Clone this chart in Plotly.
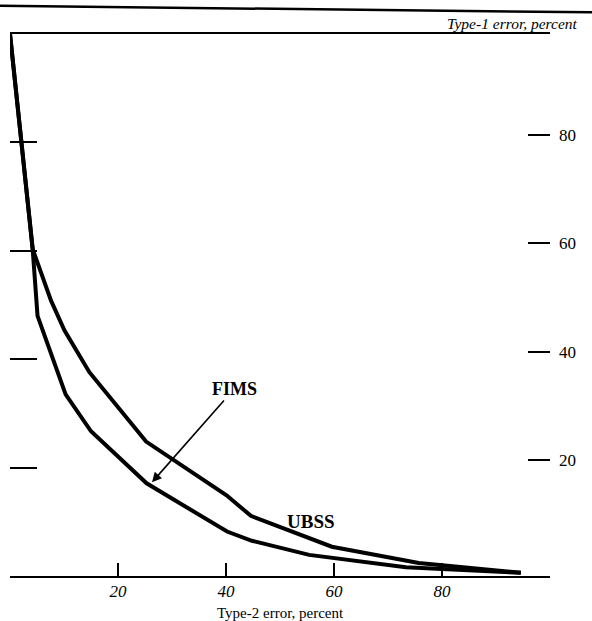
import plotly.graph_objects as go

# Data (Type-2 error %, Type-1 error %)
ubss_x = [0, 4.2, 7.6, 10.1, 14.7, 25.2, 40.1, 44.6, 59.6, 75.7, 94.6]
ubss_y = [100, 60.3, 50.8, 45.3, 37.6, 24.8, 14.9, 11.1, 5.4, 2.4, 0.6]
fims_x = [0, 4.2, 5.1, 10.3, 15.0, 25.3, 40.2, 44.8, 55.4, 73.3, 94.6]
fims_y = [100, 60.3, 48.0, 33.5, 26.7, 17.1, 8.2, 6.5, 3.9, 1.6, 0.6]

tick_vals = [20, 40, 60, 80]
tick_text = ["20", "40", "60", "80"]

FONT = "Liberation Serif"

fig = go.Figure()
fig.add_trace(go.Scatter(x=ubss_x, y=ubss_y, mode="lines", name="UBSS",
                         line=dict(color="black", width=4), showlegend=False))
fig.add_trace(go.Scatter(x=fims_x, y=fims_y, mode="lines", name="FIMS",
                         line=dict(color="black", width=4), showlegend=False))
# empty trace so that the right-hand tick axis is drawn
fig.add_trace(go.Scatter(x=[], y=[], yaxis="y2", mode="lines",
                         showlegend=False, hoverinfo="skip"))

fig.update_layout(
    width=592, height=621,
    margin=dict(l=10, r=42, t=34, b=45),
    paper_bgcolor="white", plot_bgcolor="white",
    showlegend=False,
    xaxis=dict(range=[0, 100], showgrid=False, zeroline=False,
               showline=True, linecolor="black", linewidth=1.6, mirror=True,
               ticks="inside", tickvals=tick_vals, ticktext=tick_text,
               ticklen=13, tickwidth=1.5, tickcolor="black",
               ticklabelstandoff=-1,
               tickfont=dict(family=FONT, size=17, color="black", style="italic"),
               minor=dict(tickvals=[0, 100], ticks="inside", ticklen=20,
                          tickwidth=1.5, tickcolor="black", showgrid=False)),
    yaxis=dict(range=[0, 100], showgrid=False, zeroline=False, showline=False,
               ticks="inside", tickvals=tick_vals, ticklen=27, tickwidth=1.5,
               tickcolor="black", showticklabels=False),
    yaxis2=dict(range=[-1.4, 98.6], overlaying="y", side="right", anchor="x",
                showgrid=False, zeroline=False, showline=False,
                ticks="inside", tickvals=tick_vals, ticktext=tick_text,
                ticklen=22, tickwidth=1.5, tickcolor="black",
                ticklabelstandoff=8,
                tickfont=dict(family=FONT, size=17, color="black")),
    shapes=[
        dict(type="line", xref="paper", yref="paper",
             x0=-0.02, y0=1.052, x1=1.08, y1=1.040,
             line=dict(color="black", width=2.5)),
    ],
    annotations=[
        dict(text="Type-1 error, percent", xref="paper", yref="paper",
             x=1.0556, y=1.020, xanchor="right", yanchor="middle",
             showarrow=False,
             font=dict(family=FONT, size=15.5, color="black", style="italic")),
        dict(text="Type-2 error, percent", xref="paper", yref="paper",
             x=0.5, y=-0.0675, xanchor="center", yanchor="middle",
             showarrow=False,
             font=dict(family=FONT, size=15, color="black")),
        dict(text="<b>FIMS</b>", xref="x", yref="y", x=26.3, y=17.3,
             axref="x", ayref="y", ax=41.5, ay=34.5,
             showarrow=True, arrowhead=2, arrowsize=1.2, arrowwidth=1.6,
             arrowcolor="black",
             font=dict(family=FONT, size=18, color="black")),
        dict(text="<b>UBSS</b>", xref="x", yref="y", x=55.7, y=10.1,
             showarrow=False,
             font=dict(family=FONT, size=19, color="black")),
    ],
)

fig.write_html("out.html",
               config={"displayModeBar": False},
               post_script="document.body.style.margin='0';"
                           "document.body.style.overflow='hidden';")
